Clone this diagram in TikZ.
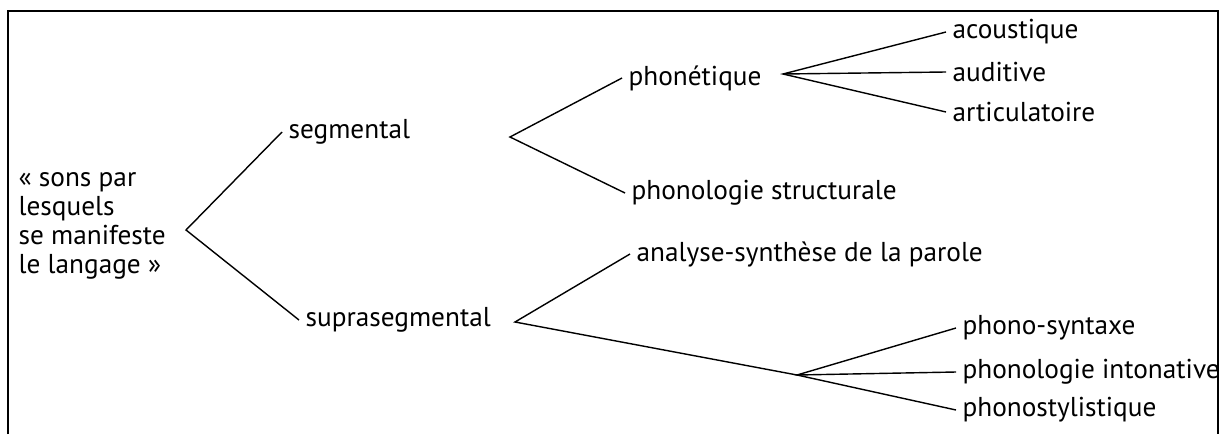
\documentclass[tikz,border=0pt]{standalone}
\usepackage{fontspec}
\setmainfont{PT Sans}
\usepackage{tikz}

\begin{document}
\begin{tikzpicture}[x=0.025cm,y=-0.025cm,
  lbl/.style={anchor=west,inner sep=4.5pt,font=\fontsize{19.4}{21}\selectfont},
  branch/.style={black,line width=1pt}]
\useasboundingbox (0,0) rectangle (1227,434);
% frame, open at the bottom
\draw[black,line width=1.4pt] (8,434) -- (8,11) -- (1218,11) -- (1218,434);
% forks
\coordinate (rootfork) at (186,230);
\coordinate (segfork) at (510,137);
\coordinate (suprafork) at (515,322);
\coordinate (phonfork) at (783,74);
\coordinate (phonofork) at (797,375);
% labels
\node[lbl,align=left,font=\fontsize{19.4}{20.6}\selectfont] (root) at (12,226) {« sons par\\lesquels\\se manifeste\\le langage »};
\node[lbl] (seg) at (282,132) {segmental};
\node[lbl] (supra) at (299,320) {suprasegmental};
\node[lbl] (phon) at (622,78) {phonétique};
\node[lbl] (phonstr) at (625,193) {phonologie structurale};
\node[lbl] (analyse) at (630,254) {analyse-synthèse de la parole};
\node[lbl] (acou) at (946,32) {acoustique};
\node[lbl] (audi) at (946,72) {auditive};
\node[lbl] (arti) at (946,112) {articulatoire};
\node[lbl] (psyn) at (956,328) {phono-syntaxe};
\node[lbl] (pint) at (956,372) {phonologie intonative};
\node[lbl] (psty) at (956,410) {phonostylistique};
% branches
\draw[branch] (seg.west) -- (rootfork) -- (supra.west);
\draw[branch] (phon.west) -- (segfork) -- (phonstr.west);
\draw[branch] (analyse.west) -- (suprafork) -- (phonofork);
\draw[branch] (acou.west) -- (phonfork) -- (arti.west);
\draw[branch] (phonfork) -- (audi.west);
\draw[branch] (psyn.west) -- (phonofork) -- (psty.west);
\draw[branch] (phonofork) -- (pint.west);
\end{tikzpicture}
\end{document}
